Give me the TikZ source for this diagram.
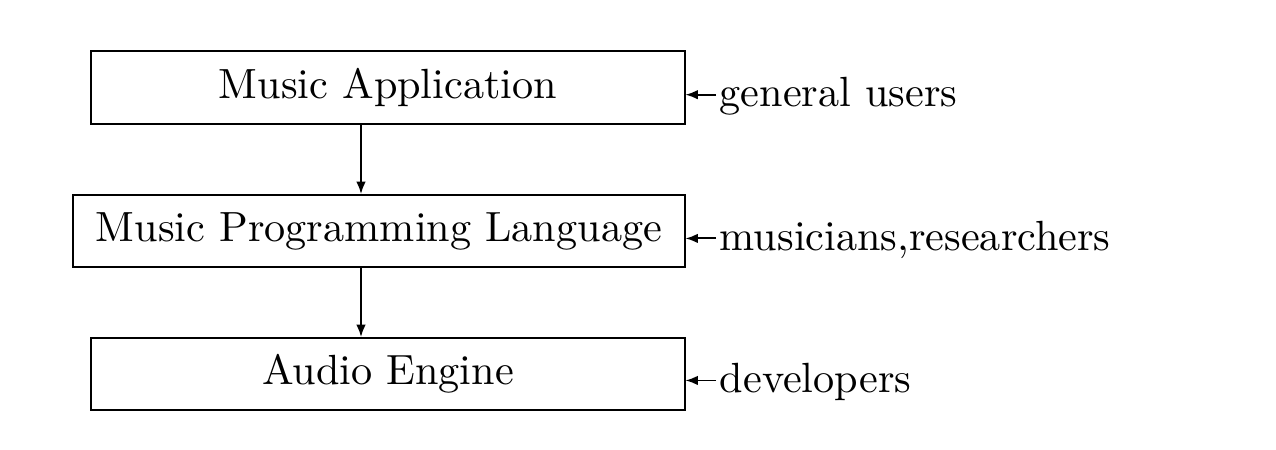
\documentclass[tikz,border=0pt]{standalone}
\usetikzlibrary{arrows.meta}
\begin{document}
\begin{tikzpicture}[x=0.2415pt,y=-0.2415pt,
  layerbox/.style={draw,line width=0.45pt,rectangle,inner sep=0pt,font=\fontsize{10.2}{12}\selectfont},
  who/.style={anchor=base west,inner sep=0pt,font=\fontsize{10.2}{12}\selectfont},
  arr/.style={line width=0.45pt,-{Latex[length=3pt,width=2.3pt]}},
  sidearr/.style={line width=0.45pt,-{Latex[length=3pt,width=2.3pt]},shorten >=0.6pt}]
\useasboundingbox (0,0) rectangle (1276,449);
\node[layerbox,minimum width={594*0.2415pt},minimum height={73*0.2415pt}] (top) at (388,87.5) {Music Application};
\node[layerbox,minimum width={612*0.2415pt},minimum height={72*0.2415pt}] (mid) at (379,231) {Music Programming Language};
\node[layerbox,minimum width={594*0.2415pt},minimum height={72*0.2415pt}] (bot) at (388,374) {Audio Engine};
\coordinate (ax) at (361,0);
\draw[arr] (top.south -| ax) -- (mid.north -| ax);
\draw[arr] (mid.south -| ax) -- (bot.north -| ax);
\node[who] (gu) at (719,106) {general users};
\node[who] (mr) at (719,250) {musicians,researchers};
\node[who] (dv) at (719,392) {developers};
\draw[sidearr] ([shift={(-3,-1)}]gu.west) -- ([shift={(-3,-1)}]gu.west -| top.east);
\draw[sidearr] ([shift={(-3,-1)}]mr.west) -- ([shift={(-3,-1)}]mr.west -| mid.east);
\draw[sidearr] ([shift={(-3,-1)}]dv.west) -- ([shift={(-3,-1)}]dv.west -| bot.east);
\end{tikzpicture}
\end{document}
